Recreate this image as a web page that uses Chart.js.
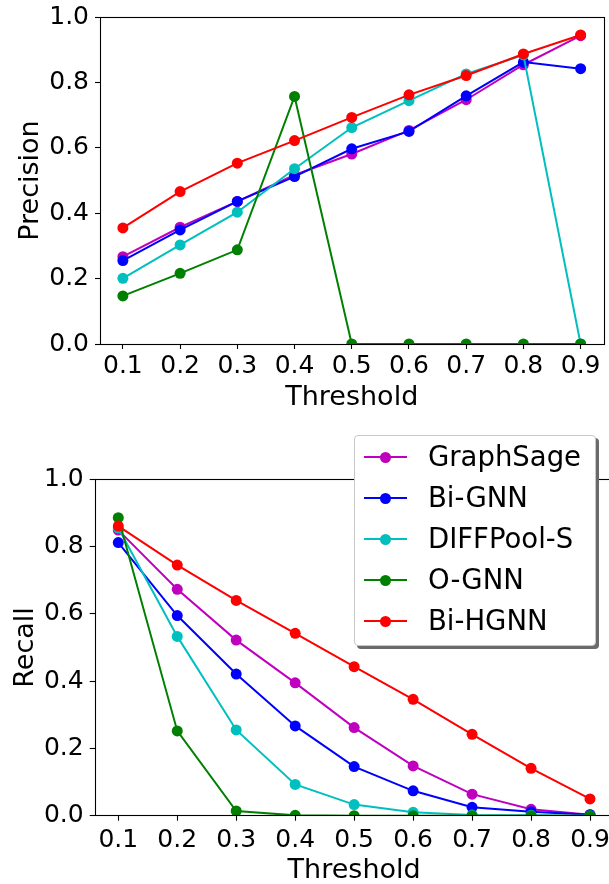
<!DOCTYPE html>
<html>
<head>
<meta charset="utf-8">
<script src="https://cdn.jsdelivr.net/npm/chart.js@4.4.1/dist/chart.umd.min.js"></script>
<style>
  html, body { margin: 0; padding: 0; background: #fff; }
  body { width: 609px; height: 884px; overflow: hidden; position: relative; font-family: "DejaVu Sans", sans-serif; }
  canvas { position: absolute; left: 0; }
  #precisionChart { top: 0; }
  #recallChart { top: 430px; }
  .legend {
    position: absolute; left: 354px; top: 435px; width: 242px; height: 211px;
    box-sizing: border-box; border: 1px solid #c8c8c8; border-radius: 4px;
    background: #fff; box-shadow: 3px 3px 0 #6a6a6a;
  }
  .legend-row { position: absolute; left: 0; width: 100%; height: 0; }
  .legend-line { position: absolute; left: 9px; width: 43px; height: 2px; top: -1px; }
  .legend-dot { position: absolute; left: 25px; width: 11px; height: 11px; top: -5.5px; border-radius: 50%; }
  .legend-text { position: absolute; left: 73px; top: 0; transform: translateY(-52%); font-size: 27.5px; line-height: 1; color: #000; white-space: nowrap; }
</style>
</head>
<body>
<canvas id="precisionChart" width="609" height="420"></canvas>
<canvas id="recallChart" width="620" height="470"></canvas>
<div class="legend" id="legend"></div>
<script>
const thresholds = [0.1, 0.2, 0.3, 0.4, 0.5, 0.6, 0.7, 0.8, 0.9];
const yTicks = [0.0, 0.2, 0.4, 0.6, 0.8, 1.0];
const seriesNames = ["GraphSage", "Bi-GNN", "DIFFPool-S", "O-GNN", "Bi-HGNN"];
const colors = ["#bf00bf", "#0000ff", "#00bfbf", "#008000", "#ff0000"];

// precision per threshold
const precGraphSage = [0.267, 0.357, 0.436, 0.517, 0.581, 0.653, 0.747, 0.854, 0.943];
const precBiGNN = [0.255, 0.349, 0.436, 0.512, 0.597, 0.650, 0.759, 0.862, 0.842];
const precDiffPool = [0.201, 0.303, 0.403, 0.536, 0.662, 0.744, 0.826, 0.884, 0.0];
const precOGNN = [0.147, 0.216, 0.288, 0.757, 0.0, 0.0, 0.0, 0.0, 0.0];
const precBiHGNN = [0.355, 0.466, 0.553, 0.622, 0.693, 0.762, 0.821, 0.887, 0.945];

// recall per threshold
const recGraphSage = [0.849, 0.673, 0.522, 0.395, 0.262, 0.148, 0.064, 0.019, 0.003];
const recBiGNN = [0.812, 0.595, 0.421, 0.267, 0.146, 0.074, 0.025, 0.012, 0.003];
const recDiffPool = [0.855, 0.533, 0.255, 0.093, 0.033, 0.010, 0.002, 0.001, 0.0];
const recOGNN = [0.886, 0.252, 0.014, 0.001, 0.0, 0.0, 0.0, 0.0, 0.0];
const recBiHGNN = [0.861, 0.745, 0.640, 0.542, 0.443, 0.346, 0.242, 0.141, 0.050];

const FONT = "'DejaVu Sans', sans-serif";

// box around the plot area, drawn over the lines like matplotlib spines
const framePlugin = {
  id: "frame",
  afterDatasetsDraw(chart) {
    const { ctx, chartArea: a } = chart;
    ctx.save();
    ctx.strokeStyle = "#000";
    ctx.lineWidth = 1.1;
    ctx.strokeRect(Math.round(a.left) + 0.5, Math.round(a.top) + 0.5,
      Math.round(a.right - a.left), Math.round(a.bottom - a.top));
    ctx.restore();
  },
};

function makeChart(id, yTitle, series, box) {
  const datasets = series.map((vals, i) => ({
    label: seriesNames[i],
    data: thresholds.map((t, j) => ({ x: t, y: vals[j] })),
    borderColor: colors[i],
    backgroundColor: colors[i],
    borderWidth: 2,
    pointRadius: 5.5,
    pointBorderWidth: 0,
    pointHoverRadius: 5.5,
    tension: 0,
    fill: false,
    order: series.length - 1 - i,
  }));

  return new Chart(document.getElementById(id), {
    type: "line",
    data: { datasets },
    plugins: [framePlugin],
    options: {
      responsive: false,
      animation: false,
      events: [],
      devicePixelRatio: 1,
      layout: { padding: { left: 0, top: box.top, right: box.right, bottom: 0 } },
      plugins: { legend: { display: false }, tooltip: { enabled: false } },
      scales: {
        x: {
          type: "linear",
          min: 0.06,
          max: 0.94,
          afterBuildTicks: (s) => { s.ticks = thresholds.map((v) => ({ value: v })); },
          afterFit: (s) => {
            s.height = box.xh;
            s.paddingLeft = s.paddingRight = 0;
          },
          border: { display: false },
          grid: { drawOnChartArea: false, drawTicks: true, tickLength: 5, tickColor: "#000", tickWidth: 1.1 },
          ticks: {
            color: "#000",
            padding: box.xPad,
            maxRotation: 0,
            autoSkip: false,
            font: { family: FONT, size: 25 },
            callback: (v) => Number(v).toFixed(1),
          },
          title: {
            display: true,
            text: "Threshold",
            color: "#000",
            font: { family: FONT, size: 27 },
            padding: { top: 0, bottom: box.xTitlePad },
          },
        },
        y: {
          type: "linear",
          min: 0,
          max: 1,
          afterBuildTicks: (s) => { s.ticks = yTicks.map((v) => ({ value: v })); },
          afterFit: (s) => {
            s.width = box.yw;
            s.paddingTop = s.paddingBottom = 0;
          },
          border: { display: false },
          grid: { drawOnChartArea: false, drawTicks: true, tickLength: 5, tickColor: "#000", tickWidth: 1.1 },
          ticks: {
            color: "#000",
            padding: 6,
            autoSkip: false,
            font: { family: FONT, size: 25 },
            callback: (v) => Number(v).toFixed(1),
          },
          title: {
            display: true,
            text: yTitle,
            color: "#000",
            font: { family: FONT, size: 27 },
            padding: { top: box.yTitlePad, bottom: 0 },
          },
        },
      },
    },
  });
}

makeChart("precisionChart", "Precision",
  [precGraphSage, precBiGNN, precDiffPool, precOGNN, precBiHGNN],
  { top: 17, right: 5, xh: 76, yw: 100, xPad: 2, xTitlePad: 6, yTitlePad: 15 });

makeChart("recallChart", "Recall",
  [recGraphSage, recBiGNN, recDiffPool, recOGNN, recBiHGNN],
  { top: 49.3, right: 6.4, xh: 84.3, yw: 94.7, xPad: 5, xTitlePad: 13, yTitlePad: 10 });

// legend box sitting over the recall plot
const legendEl = document.getElementById("legend");
seriesNames.forEach((name, i) => {
  const row = document.createElement("div");
  row.className = "legend-row";
  row.style.top = (21 + 41 * i) + "px";
  row.innerHTML =
    `<div class="legend-line" style="background:${colors[i]}"></div>` +
    `<div class="legend-dot" style="background:${colors[i]}"></div>` +
    `<span class="legend-text">${name}</span>`;
  legendEl.appendChild(row);
});
</script>
</body>
</html>
